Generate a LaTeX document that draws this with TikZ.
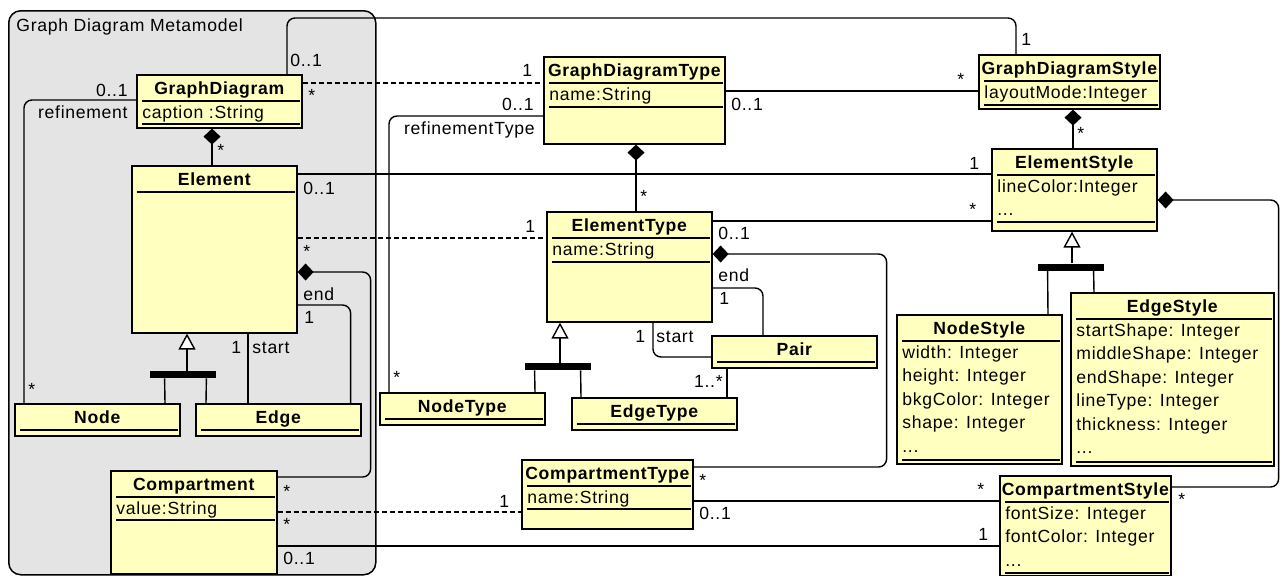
\documentclass[tikz,border=0pt]{standalone}
\usepackage{fontspec}
\setmainfont{Liberation Sans}[LetterSpace=4]
\usetikzlibrary{arrows.meta,calc}
\definecolor{classfill}{HTML}{FFFFC0}
\definecolor{pkgfill}{HTML}{E4E4E4}
\tikzset{
	pkg/.style={
		draw,
		fill = pkgfill,
		line width = 0.75pt,
		rounded corners = 6pt,
		inner sep = 0pt,
		anchor = north west
	},
	cls/.style={
		draw,
		fill = classfill,
		line width = 0.8pt,
		inner sep = 0pt,
		anchor = north west
	},
	ttl/.style={
		font = \fontsize{8.8}{10}\selectfont\bfseries,
		inner sep = 0pt,
		anchor = base
	},
	attr/.style={
		inner sep = 0pt,
		anchor = base west
	},
	mult/.style={
		inner sep = 0pt,
		anchor = base west
	},
	sepline/.style={
		line width = 0.75pt
	},
	assoc/.style={
		line width = 0.7pt,
		rounded corners = 4pt
	},
	dep/.style={
		assoc,
		dash pattern = on 2.5pt off 1.5pt
	},
	comp/.style={
		assoc,
		arrows = {Diamond[length=8pt,width=8.5pt]-}
	},
	gen/.style={
		line width = 0.7pt,
		arrows = {-Triangle[length=8pt,width=8.5pt,fill=white]}
	},
	genbar/.style={
		fill,
		inner sep = 0pt,
		minimum width = 33pt,
		minimum height = 3.5pt
	},
}

\begin{document}
\begin{tikzpicture}[x=0.5pt, y=-0.5pt, font=\fontsize{8.8}{10}\selectfont]
	\useasboundingbox (0,0) rectangle (1281,575);
	% package
	\node[pkg, minimum width=183.5pt, minimum height=282pt] (pkg) at (8,10) {};
	\node[attr] (pkgtitle) at (16,31) {Graph Diagram Metamodel};
	% classes
	\node[cls, minimum width=82.5pt, minimum height=26.5pt] (gd) at (136,74) {};
	\node[cls, minimum width=82.5pt, minimum height=83.5pt] (el) at (131,165) {};
	\node[cls, minimum width=82.5pt, minimum height=16pt] (nd) at (14,403) {};
	\node[cls, minimum width=82.5pt, minimum height=16pt] (ed) at (195,403) {};
	\node[cls, minimum width=83pt, minimum height=51.5pt] (cp) at (110,470) {};
	\node[cls, minimum width=90.5pt, minimum height=43.5pt] (gdt) at (543,56) {};
	\node[cls, minimum width=82.5pt, minimum height=55pt] (et) at (546,211) {};
	\node[cls, minimum width=82.5pt, minimum height=16pt] (nt) at (379,392) {};
	\node[cls, minimum width=82.5pt, minimum height=16pt] (edt) at (571,397) {};
	\node[cls, minimum width=82.5pt, minimum height=16pt] (pr) at (711,335) {};
	\node[cls, minimum width=85.5pt, minimum height=34.5pt] (ct) at (521,459) {};
	\node[cls, minimum width=90.5pt, minimum height=27pt] (gds) at (978,54) {};
	\node[cls, minimum width=82.5pt, minimum height=41pt] (es) at (991,148) {};
	\node[cls, minimum width=82.5pt, minimum height=74.5pt] (ns) at (896,314) {};
	\node[cls, minimum width=101.5pt, minimum height=86.5pt] (est) at (1070,292) {};
	\node[cls, minimum width=85.5pt, minimum height=50pt] (cs) at (999,475) {};
	% names and compartments
	\foreach \c/\t in {gd/GraphDiagram, el/Element, nd/Node, ed/Edge, cp/Compartment, gdt/GraphDiagramType, et/ElementType, nt/NodeType, edt/EdgeType, pr/Pair, ct/CompartmentType, gds/GraphDiagramStyle, es/ElementStyle, ns/NodeStyle, est/EdgeStyle, cs/CompartmentStyle}{
		\node[ttl] (\c-t) at ($(\c.north)+(0,20.5)$) {\t};
		\draw[sepline] ($(\c.north west)+(6,27)$) -- ($(\c.north east)+(-3,27)$);
	}
	\foreach \c/\a in {gd/caption :String, cp/value:String, gdt/name:String, et/name:String, ct/name:String, gds/layoutMode:Integer, es/lineColor:Integer}
		\node[attr] (\c-a) at ($(\c.north west)+(6,44)$) {\a};
	\foreach \a [count=\i from 0] in {width: Integer, height: Integer, bkgColor: Integer, shape: Integer}
		\node[attr] (ns-a\i) at ($(ns.north west)+(6,44+23.5*\i)$) {\a};
	\foreach \a [count=\i from 0] in {startShape: Integer, middleShape: Integer, endShape: Integer, lineType: Integer, thickness: Integer}
		\node[attr] (est-a\i) at ($(est.north west)+(6,44+23.5*\i)$) {\a};
	\foreach \a [count=\i from 0] in {fontSize: Integer, fontColor: Integer}
		\node[attr] (cs-a\i) at ($(cs.north west)+(6,44+23.5*\i)$) {\a};
	\foreach \c/\k in {es/1, ns/4, est/5, cs/2}
		\node[attr] (\c-dots) at ($(\c.north west)+(6,44+23.5*\k)$) {...};
	\foreach \c/\y in {gd/50, cp/50, gdt/51, et/51, ct/50, gds/51, es/74, ns/146, est/170, cs/98}
		\draw[sepline] ($(\c.north west)+(6,\y)$) -- ($(\c.north east)+(-3,\y)$);
	% generalisation bars
	\node[genbar] (elbar) at (183,374.5) {};
	\node[genbar] (etbar) at (558,366.5) {};
	\node[genbar] (esbar) at (1071,267) {};
	% metamodel
	\draw[comp] ($(gd.south west)+(76,0)$) -- ($(el.north west)+(81,0)$);
	\draw[assoc] ($(gd.north west)+(0,26)$) -| ($(nd.north west)+(10,0)$);
	\draw[comp] ($(el.north east)+(0,107)$) -- ++(73,0) |- ($(cp.north east)+(0,7)$);
	\draw[assoc] ($(el.north east)+(0,140)$) -| ($(ed.north east)+(-11,0)$);
	\draw[assoc] ($(el.south west)+(117,0)$) -- ($(ed.north west)+(53,0)$);
	\draw[gen] ($(elbar.north)+(4,0)$) -- ($(el.south west)+(56,0)$);
	\draw[assoc] ($(elbar.south west)+(15,0)$) -- ($(nd.north west)+(151,0)$);
	\draw[assoc] ($(elbar.south east)+(-10,0)$) -- ($(ed.north west)+(11,0)$);
	% types
	\draw[assoc] ($(gdt.north west)+(0,60)$) -| ($(nt.north west)+(10,0)$);
	\draw[comp] ($(gdt.south west)+(93,0)$) -- ($(et.north west)+(90,0)$);
	\draw[comp] ($(et.north east)+(0,43)$) -- ++(174,0) |- ($(ct.north east)+(0,8)$);
	\draw[assoc] ($(et.north east)+(0,77)$) -| ($(pr.north west)+(52,0)$);
	\draw[assoc] ($(et.south west)+(107,0)$) |- ($(pr.north west)+(0,22)$);
	\draw[assoc] ($(pr.south west)+(16,0)$) -- ($(edt.north west)+(156,0)$);
	\draw[gen] ($(etbar.north)+(2,0)$) -- ($(et.south west)+(14,0)$);
	\draw[assoc] ($(etbar.south west)+(10,0)$) -- ($(nt.north west)+(156,0)$);
	\draw[assoc] ($(etbar.south west)+(56,0)$) -- ($(edt.north west)+(10,0)$);
	% styles
	\draw[comp] ($(gds.south west)+(95,0)$) -- ($(es.north west)+(82,0)$);
	\draw[comp] ($(es.north east)+(0,52)$) -- ++(121,0) |- ($(cs.north east)+(0,12)$);
	\draw[gen] ($(esbar.north)+(1,0)$) -- ($(es.south west)+(81,0)$);
	\draw[assoc] ($(esbar.south west)+(10,0)$) -- ($(ns.north west)+(152,0)$);
	\draw[assoc] ($(esbar.south west)+(56,0)$) -- ($(est.north west)+(24,0)$);
	% between the three
	\draw[assoc] ($(gd.north west)+(151,0)$) -- ++(0,-56) -| ($(gds.north west)+(38,0)$);
	\draw[dep] ($(gd.north east)+(0,9)$) -- ($(gdt.north west)+(0,27)$);
	\draw[assoc] ($(gdt.north east)+(0,35)$) -- ($(gds.north west)+(0,37)$);
	\draw[assoc] ($(el.north east)+(0,9)$) -- ($(es.north west)+(0,26)$);
	\draw[dep] ($(el.north east)+(0,73)$) -- ($(et.north west)+(0,27)$);
	\draw[assoc] ($(et.north east)+(0,10)$) -- ($(es.north west)+(0,73)$);
	\draw[dep] ($(cp.north east)+(0,42)$) -- ($(ct.north west)+(0,53)$);
	\draw[assoc] ($(cp.north east)+(0,76)$) -- ($(cs.north west)+(0,71)$);
	\draw[assoc] ($(ct.north east)+(0,42)$) -- ($(cs.north west)+(0,26)$);
	% multiplicities and roles
	\node[mult] (m-gd-top) at (290,66) {0..1};
	\node[mult] (m-gds-top) at (1021,45) {1};
	\node[mult] (m-gd-dep) at (308,101) {*};
	\node[mult] (m-gdt-dep) at (522,76) {1};
	\node[mult, anchor=base east] (m-gd-ref) at (128,96) {0..1};
	\node[mult, anchor=base east] (r-gd-ref) at (128,118) {refinement};
	\node[mult] (m-nd-ref) at (28,395) {*};
	\node[mult] (m-el-comp) at (217,156) {*};
	\node[mult] (m-el-es) at (303,194) {0..1};
	\node[mult] (m-es-el) at (969,169) {1};
	\node[mult] (m-el-dep) at (303,257) {*};
	\node[mult] (m-et-dep) at (525,232) {1};
	\node[mult] (m-cp-comp) at (283,497) {*};
	\node[mult] (r-el-end) at (303,300) {end};
	\node[mult] (m-el-end) at (304,323) {1};
	\node[mult] (m-el-start) at (231,353) {1};
	\node[mult] (r-el-start) at (252,353) {start};
	\node[mult] (m-cp-dep) at (283,530) {*};
	\node[mult] (m-ct-dep) at (499,507) {1};
	\node[mult] (m-cp-cs) at (283,564) {0..1};
	\node[mult] (m-cs-cp) at (978,540) {1};
	\node[mult] (m-gdt-gds) at (731,110) {0..1};
	\node[mult] (m-gds-gdt) at (957,85) {*};
	\node[mult, anchor=base east] (m-gdt-ref) at (534,110) {0..1};
	\node[mult, anchor=base east] (r-gdt-ref) at (535,134) {refinementType};
	\node[mult] (m-nt-ref) at (393,383) {*};
	\node[mult] (m-et-comp) at (640,202) {*};
	\node[mult] (m-et-es) at (718,239) {0..1};
	\node[mult] (m-es-et) at (969,215) {*};
	\node[mult] (m-ct-comp) at (699,486) {*};
	\node[mult] (r-et-end) at (718,281) {end};
	\node[mult] (m-et-end) at (719,304) {1};
	\node[mult] (m-et-start) at (635,342) {1};
	\node[mult] (r-et-start) at (656,342) {start};
	\node[mult, anchor=base east] (m-edt-pr) at (723,387) {1..*};
	\node[mult] (m-ct-cs) at (699,519) {0..1};
	\node[mult] (m-cs-ct) at (977,495) {*};
	\node[mult] (m-es-comp) at (1077,139) {*};
	\node[mult] (m-cs-comp) at (1178,505) {*};
\end{tikzpicture}
\end{document}
